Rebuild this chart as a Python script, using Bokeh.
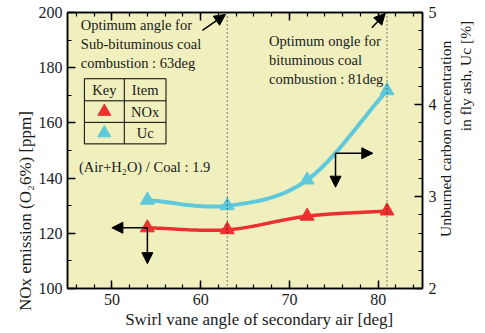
import numpy as np
from bokeh.plotting import figure
from bokeh.models import (LinearAxis, Range1d, Label, Arrow, NormalHead, Span,
                          FixedTicker, CustomJSTickFormatter)
from bokeh.embed import file_html
from bokeh.resources import INLINE

# ---- data ----
angle = [54, 63, 72, 81]                 # swirl vane angle [deg]
nox = [122.0, 121.3, 126.2, 128.1]       # NOx emission [ppm]
uc = [2.96, 2.90, 3.18, 4.15]            # unburned carbon [%]

x_ticks = [50, 60, 70, 80]
y_ticks = [100, 120, 140, 160, 180, 200]
uc_ticks = [2, 3, 4, 5]

FONT = "Liberation Serif"
RED = "#EC3030"
CYAN = "#5EC8DC"
BG = "#F0F0BE"
INK = "#1a1a1a"


def smooth(xs, ys, n=40):
    """Cubic Hermite curve through the given points (drawing only)."""
    xs = np.asarray(xs, float)
    ys = np.asarray(ys, float)
    m = np.zeros_like(ys)
    m[0] = (ys[1] - ys[0]) / (xs[1] - xs[0])
    m[-1] = (ys[-1] - ys[-2]) / (xs[-1] - xs[-2])
    for i in range(1, len(xs) - 1):
        m[i] = (ys[i + 1] - ys[i - 1]) / (xs[i + 1] - xs[i - 1])
    ox, oy = [], []
    for i in range(len(xs) - 1):
        h = xs[i + 1] - xs[i]
        t = np.linspace(0, 1, n, endpoint=(i == len(xs) - 2))
        h00 = 2 * t**3 - 3 * t**2 + 1
        h10 = t**3 - 2 * t**2 + t
        h01 = -2 * t**3 + 3 * t**2
        h11 = t**3 - t**2
        ox.extend(xs[i] + t * h)
        oy.extend(h00 * ys[i] + h10 * h * m[i] + h01 * ys[i + 1] + h11 * h * m[i + 1])
    return ox, oy


p = figure(width=485, height=333, x_range=Range1d(45, 85), y_range=Range1d(100, 200),
           output_backend="svg", toolbar_location=None,
           min_border_left=67, min_border_right=62, min_border_top=12, min_border_bottom=45)
p.extra_y_ranges = {"uc": Range1d(2, 5)}

p.background_fill_color = BG
p.border_fill_color = "white"
p.outline_line_color = "black"
p.outline_line_width = 1.5
p.xgrid.visible = False
p.ygrid.visible = False


def style_axis(ax, fs="16px"):
    ax.major_tick_in = 8
    ax.major_tick_out = 0
    ax.minor_tick_in = 4
    ax.minor_tick_out = 0
    ax.axis_line_color = "black"
    ax.axis_line_width = 1.5
    ax.major_tick_line_width = 1.5
    ax.minor_tick_line_width = 1.2
    ax.major_label_text_font = FONT
    ax.major_label_text_font_size = fs
    ax.major_label_text_color = INK


def title_axis(text, pos, fs, standoff, orient, **kw):
    """An axis used only to carry a title text at a chosen position."""
    ax = LinearAxis(ticker=FixedTicker(ticks=[pos], minor_ticks=[]),
                    formatter=CustomJSTickFormatter(code="return %r" % text), **kw)
    ax.axis_line_color = None
    ax.major_tick_line_color = None
    ax.minor_tick_line_color = None
    ax.major_tick_in = 0
    ax.major_tick_out = 0
    ax.major_label_text_font = FONT
    ax.major_label_text_font_size = fs
    ax.major_label_text_color = INK
    ax.major_label_standoff = standoff
    if orient is not None:
        ax.major_label_orientation = orient
    return ax


# bottom axis
xa = p.xaxis[0]
xa.ticker = FixedTicker(ticks=x_ticks, minor_ticks=list(range(46, 85, 2)))
style_axis(xa)
xa.major_label_standoff = 5

# left axis
ya = p.yaxis[0]
ya.ticker = FixedTicker(ticks=y_ticks, minor_ticks=list(range(110, 200, 20)))
style_axis(ya)
ya.major_label_standoff = 5

# top axis (ticks only)
ta = LinearAxis(ticker=FixedTicker(ticks=x_ticks, minor_ticks=list(range(46, 85, 2))),
                formatter=CustomJSTickFormatter(code="return ''"))
style_axis(ta, fs="1px")
ta.major_label_standoff = 0
p.add_layout(ta, "above")

# right axis
ra = LinearAxis(y_range_name="uc",
                ticker=FixedTicker(ticks=uc_ticks,
                                   minor_ticks=[round(2 + 0.2 * i, 1) for i in range(16)]))
style_axis(ra)
ra.major_label_standoff = 6
p.add_layout(ra, "right")

# axis titles
p.add_layout(title_axis("Swirl vane angle of secondary air [deg]", 66.6, "17px", 2, None),
             "below")
p.add_layout(title_axis("NOx emission (O\u20826%) [ppm]", 148.0, "17px", 10, np.pi / 2),
             "left")
p.add_layout(title_axis("Unburned carbon concentration", 147.8, "15.5px", 6, np.pi / 2),
             "right")
p.add_layout(title_axis("in fly ash, Uc [%]", 171.6, "15.5px", 0, np.pi / 2), "right")

# dotted optimum lines
for xv in (63, 81):
    p.add_layout(Span(location=xv, dimension="height", line_color="black",
                      line_width=1, line_dash="1 3"))

# curves
cx, cy = smooth(angle, nox)
p.line(cx, cy, line_color=RED, line_width=3.5)
ux, uy = smooth(angle, uc)
p.line(ux, uy, line_color=CYAN, line_width=4, y_range_name="uc")
p.scatter(angle, nox, marker="triangle", size=14, color=RED)
p.scatter(angle, uc, marker="triangle", size=14, color=CYAN, y_range_name="uc")


def arrow(x0, y0, x1, y1):
    p.add_layout(Arrow(end=NormalHead(size=11, fill_color="black", line_color="black"),
                       x_start=x0, y_start=y0, x_end=x1, y_end=y1,
                       line_color="black", line_width=1.5))


# arrows from NOx point toward left axis and down
arrow(angle[0], nox[0], 50.0, nox[0])
arrow(angle[0], nox[0], angle[0], 109)
# bracket on Uc curve toward right axis
arrow(75.2, 149.0, 79.4, 149.0)
arrow(75.2, 149.0, 75.2, 136.7)

# annotation arrows to the optimum lines
arrow(60.2, 193.5, 62.8, 199.3)
arrow(79.3, 194.5, 80.8, 199.7)

txt = dict(text_font=FONT, text_font_size="14.5px", text_color=INK,
           text_baseline="middle")
for i, s in enumerate(["Optimum angle for", "Sub-bituminous coal",
                       "combustion : 63deg"]):
    p.add_layout(Label(x=46.5, y=195.6 - 6.9 * i, text=s, **txt))
for i, s in enumerate(["Optimum ongle for", "bituminous coal",
                       "combustion : 81deg"]):
    p.add_layout(Label(x=67.7, y=189.5 - 6.8 * i, text=s, **txt))
p.add_layout(Label(x=46.3, y=144.0, text="(Air+H\u2082O) / Coal : 1.9", **txt))

# key table
p.quad(left=[46.9], right=[56.1], bottom=[152.4], top=[176.0],
       fill_color=None, line_color="black", line_width=1)
p.segment(x0=[51.4, 46.9, 46.9], y0=[152.4, 168.0, 160.2],
          x1=[51.4, 56.1, 56.1], y1=[176.0, 168.0, 160.2],
          line_color="black", line_width=1)
ctr = dict(txt, text_align="center")
p.add_layout(Label(x=49.15, y=172.0, text="Key", **ctr))
p.add_layout(Label(x=53.75, y=172.0, text="Item", **ctr))
p.add_layout(Label(x=53.75, y=164.1, text="NOx", **ctr))
p.add_layout(Label(x=53.75, y=156.3, text="Uc", **ctr))
p.scatter([49.15], [164.1], marker="triangle", size=13, color=RED)
p.scatter([49.15], [156.3], marker="triangle", size=13, color=CYAN)

open("out.html", "w").write(file_html(p, INLINE))
